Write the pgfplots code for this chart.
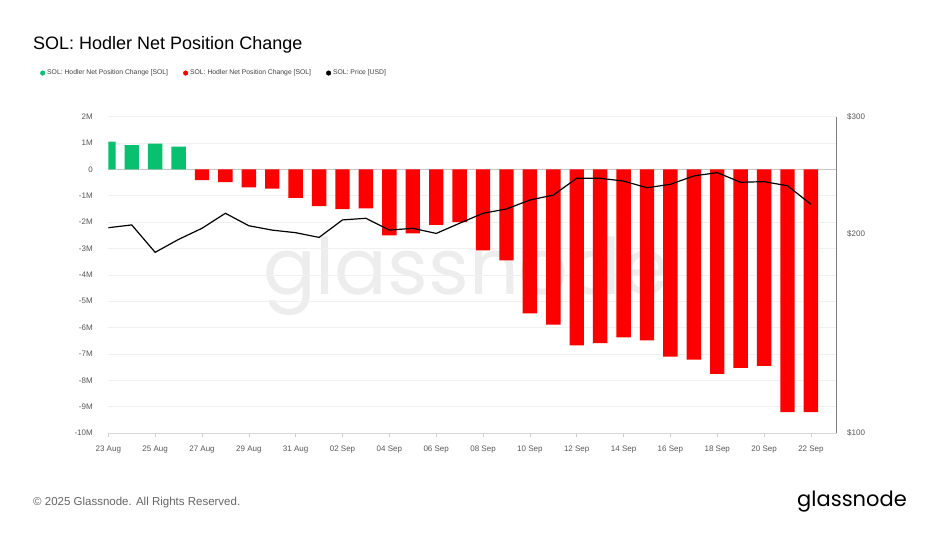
\documentclass[border=0pt]{standalone}
\usepackage{fontspec}
\setmainfont{Liberation Sans}
\newfontfamily\logofont{Poppins}
\usepackage{pgfplots}
\pgfplotsset{compat=1.18}
\definecolor{glgreen}{RGB}{8,192,112}
\definecolor{glred}{RGB}{252,0,0}
\definecolor{tickgray}{RGB}{88,88,88}
\pgfplotsset{dotlegend/.style={legend image code/.code={\fill[#1] (0pt,0pt) circle (2.3pt);}}}
\begin{document}
\begin{tikzpicture}[x=1pt,y=1pt]
\path[fill=white] (0,0) rectangle (932,557);
\node[anchor=base, inner sep=0pt, text=black!7, font=\logofont\fontsize{78}{78}\selectfont] at (466.5,262) {glassnode};
\node[anchor=base west, inner sep=0pt, font=\fontsize{18}{18}\selectfont] at (33,507) {SOL: Hodler Net Position Change};
\node[anchor=west, inner sep=0pt, font=\fontsize{11.5}{12}\selectfont, text=black!60] at (33,54) {© 2025 Glassnode. All Rights Reserved.};
\node[anchor=east, inner sep=0pt, font=\logofont\fontsize{21}{21}\selectfont] at (907,55) {glassnode};

\begin{axis}[
  at={(108.3pt,124pt)}, anchor=south west,
  scale only axis, width=728.4pt, height=316.3pt,
  xmin=0, xmax=31.1, ymin=-10, ymax=2,
  axis x line*=bottom, axis y line*=left,
  y axis line style={draw=none},
  x axis line style={draw=black!15},
  xtick={0,2,...,30},
  xticklabels={23 Aug,25 Aug,27 Aug,29 Aug,31 Aug,02 Sep,04 Sep,06 Sep,08 Sep,10 Sep,12 Sep,14 Sep,16 Sep,18 Sep,20 Sep,22 Sep},
  ytick={-10,-9,-8,-7,-6,-5,-4,-3,-2,-1,1,2},
  yticklabels={-10M,-9M,-8M,-7M,-6M,-5M,-4M,-3M,-2M,-1M,1M,2M},
  extra y ticks={0}, extra y tick labels={0},
  extra y tick style={grid style={draw=black!22, line width=0.8pt}},
  ymajorgrids, grid style={draw=black!6, line width=0.6pt},
  ytick style={draw=none},
  xtick style={draw=black!20, line width=0.6pt},
  tick align=outside, major tick length=4pt,
  ticklabel style={font=\fontsize{8}{9}\selectfont, text=tickgray},
  yticklabel style={xshift=-8pt},
  xticklabel style={yshift=-5pt},
  legend style={at={(-0.0979,1.138)}, anchor=west, draw=none, fill=none,
    font=\fontsize{6.8}{7}\selectfont, text=black!75,
    /tikz/every even column/.append style={column sep=13pt}},
  legend columns=3, legend cell align=left,
]
\addplot[ybar, bar width=14.4pt, fill=glgreen, draw=none, forget plot] coordinates {
(0,1.05) (1,0.92) (2,0.98) (3,0.86)};
\addplot[ybar, bar width=14.4pt, fill=glred, draw=none, forget plot] coordinates {
(4,-0.41) (5,-0.48) (6,-0.68) (7,-0.73) (8,-1.08) (9,-1.39) (10,-1.51) (11,-1.48)
(12,-2.50) (13,-2.43) (14,-2.10) (15,-2.00) (16,-3.07) (17,-3.45) (18,-5.46) (19,-5.89)
(20,-6.68) (21,-6.59) (22,-6.37) (23,-6.49) (24,-7.10) (25,-7.22) (26,-7.76) (27,-7.53)
(28,-7.45) (29,-9.21) (30,-9.21)};
\addlegendimage{dotlegend=glgreen}
\addlegendentry{SOL: Hodler Net Position Change [SOL]}
\addlegendimage{dotlegend=glred}
\addlegendentry{SOL: Hodler Net Position Change [SOL]}
\addlegendimage{dotlegend=black}
\addlegendentry{SOL: Price [USD]}
\end{axis}

\begin{axis}[
  at={(108.3pt,124pt)}, anchor=south west,
  scale only axis, width=728.4pt, height=316.3pt,
  xmin=0, xmax=31.1, ymode=log, ymin=100, ymax=300,
  axis x line=none, axis y line*=right,
  y axis line style={draw=black!50, line width=1.3pt},
  ytick={100,200,300}, yticklabels={\$100,\$200,\$300},
  minor ytick={}, ytick style={draw=none},
  ticklabel style={font=\fontsize{8}{9}\selectfont, text=tickgray},
  yticklabel style={xshift=7pt},
]
\addplot[black, line width=1.2pt] coordinates {
(0,204) (1,206) (2,187.3) (3,195.9) (4,203.6) (5,214.5) (6,205.4) (7,202.3)
(8,200.5) (9,197.3) (10,209.6) (11,210.8) (12,202.3) (13,203.6) (14,200) (15,207.2)
(16,214.5) (17,217.7) (18,224.6) (19,228.5) (20,242.2) (21,242.2) (22,239.9) (23,234.4)
(24,237.2) (25,244.2) (26,247.0) (27,238.9) (28,239.4) (29,236) (30,221.3)};
\end{axis}
\end{tikzpicture}
\end{document}
